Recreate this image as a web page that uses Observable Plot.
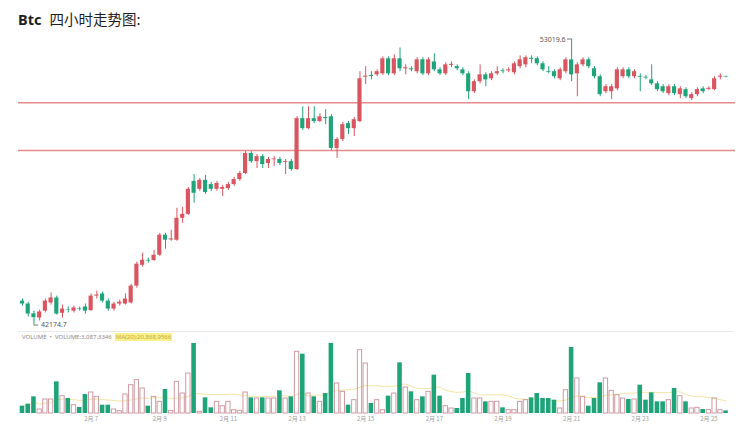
<!DOCTYPE html>
<html><head><meta charset="utf-8">
<script src="https://cdn.jsdelivr.net/npm/d3@7"></script>
<script src="https://cdn.jsdelivr.net/npm/@observablehq/plot@0.6"></script>
<style>
body{margin:0;background:#fff;width:750px;height:432px;overflow:hidden;position:relative;font-family:"Noto Sans CJK SC","Noto Sans",sans-serif;}
#price{position:absolute;left:0;top:0;}
#vol{position:absolute;left:0;top:330px;}
#sep{position:absolute;left:18px;top:331px;width:715px;height:0;border-top:1px solid #e8e8e8;}
#title{position:absolute;left:18px;top:9px;font-size:14.5px;line-height:19px;color:#1e1e1e;white-space:nowrap;z-index:5;}
#title b{font-family:"Noto Sans","Noto Sans CJK SC",sans-serif;font-weight:700;margin-right:8px;}
#volhead{position:absolute;left:22px;top:334px;font-size:6px;line-height:7px;color:#8a8a8a;white-space:nowrap;z-index:5;font-family:"Noto Sans",sans-serif;}
#volhead .ma{background:#fbf08a;color:#c2aa40;padding:0 1px;margin-left:3px;}
</style></head><body>
<div id="price"></div>
<div id="sep"></div>
<div id="vol"></div>
<div id="title"><b>Btc</b>四小时走势图:</div>
<div id="volhead">VOLUME &nbsp;•&nbsp; VOLUME:3,087.3346<span class="ma">MA(20):20,868.9566</span></div>
<script>
const startTime = Date.UTC(2024, 1, 5, 0, 0);
const HOUR = 3600 * 1000;

const open = [43080,42970,42600,42440,42700,43010,43200,42620,42760,42700,
42800,42860,42720,43270,43350,43080,42780,42970,42970,43010,
43650,44440,44630,44620,44820,45580,45400,45390,46220,46370,
47620,47320,47660,47500,47320,47320,47350,47500,47690,47920,
48680,48370,48560,48300,48440,48450,48340,48370,48070,50000,
49620,50000,49890,50040,50070,48870,49210,49810,49620,49890,
51570,51640,51660,51700,52270,51700,52270,51890,51890,51780,
52230,51700,52150,51850,51700,52020,51970,51850,51700,51020,
51400,51660,51510,51700,51810,51810,51740,51970,52040,52290,
52270,52080,51790,51780,51510,51780,52230,51700,52040,52230,
51890,51590,51020,51020,51130,51590,51850,51590,51600,51570,
51470,51320,51210,50950,51210,50910,51100,50760,50910,51130,
51110,51100,51570,51600];
const close = [42970,42590,42450,42670,43080,43200,42590,42780,42740,42820,
42780,42700,43270,43310,43080,42780,42970,43040,43160,43650,
44480,44630,44600,44820,45580,45390,45440,46220,46370,47320,
47170,47660,47200,47320,47540,47390,47500,47690,47920,48680,
48370,48560,48260,48450,48470,48300,48370,48070,50000,49620,
50000,49890,50070,50000,48870,49210,49770,49620,49960,51510,
51610,51600,51780,52270,51700,52270,51890,51930,51850,52230,
51700,52230,51850,51700,52040,52060,51890,51700,51020,51400,
51660,51470,51700,51780,51780,51850,52080,52230,52310,52250,
52080,51850,51760,51590,51850,52230,51660,52040,52230,51970,
51590,50910,51210,51210,51850,51850,51590,51780,51570,51540,
51320,51100,51020,51210,50950,51130,50830,50910,51100,51020,
51150,51510,51610,51580];
const high = [43160,43040,42700,42740,43160,43390,43270,42930,42860,42890,
42860,42970,43350,43460,43420,43160,43040,43120,43350,43720,
44560,44900,44710,45010,45650,45650,45770,46600,46640,47390,
47880,47730,47850,47580,47620,47470,47580,47770,48000,48750,
48750,48640,48640,48530,48560,48530,48450,48450,50080,50450,
50450,50450,50190,50340,50150,49280,49850,49890,50040,51780,
51970,51780,51850,52340,52340,52420,52680,52040,51970,52310,
52310,52310,52460,51930,52120,52150,52040,51930,51780,51470,
52040,51740,51780,51970,51890,51930,52150,52380,52380,52380,
52340,52150,51970,51850,51930,52310,53019.6,52120,52310,52310,
51970,51660,51290,51290,51930,51930,51930,51850,51700,51630,
52040,51400,51290,51290,51290,51210,51170,50980,51170,51210,
51210,51590,51700,51610];
const low = [42890,42480,42174.7,42330,42630,42930,42550,42440,42630,42630,
42700,42590,42700,43160,43010,42700,42700,42890,42930,42970,
43570,44370,44520,44590,44780,45050,45350,45350,46030,46330,
46790,47240,47130,47240,47240,47050,47280,47430,47620,47880,
48300,48110,48110,48110,48190,48220,47880,48000,48030,49550,
49580,49810,49850,49770,48790,48490,49130,49400,49320,49850,
51290,51470,51590,51630,51630,51630,51780,51660,51780,51700,
51630,51630,51780,51630,51630,51930,51810,51630,50720,50950,
51320,51210,51440,51630,51700,51740,51660,51890,51930,52080,
52000,51780,51700,51510,51440,51700,51400,50830,51970,51890,
51510,50830,50950,50720,51060,51510,51510,51510,51020,51470,
51250,51020,50950,50870,50870,50760,50760,50680,50830,50950,
51060,51060,51470,51550];
const volume = [8800,11200,20000,4800,16800,16800,38000,20800,18000,10000,
7200,22800,25200,20000,10000,10000,4800,2800,22800,34000,
40000,30000,8800,20000,14000,28800,3200,38000,24000,48000,
84000,2000,18800,6800,14000,8800,14000,4000,3200,25200,
18800,18000,18800,18000,18000,27200,18000,20000,74000,71200,
24000,20000,14000,24000,84000,36000,26000,10000,16000,76000,
60000,12000,16000,4000,20800,24000,60800,31200,26000,16000,
20000,26000,46000,20800,8800,6000,6000,18000,48000,18000,
18000,14000,14000,14000,6800,4000,4000,14000,16000,18800,
24000,18000,18000,16000,6000,28000,79200,42000,20000,8800,
18000,36800,42000,27200,22000,18000,16800,16800,34000,16000,
24800,14000,14000,16000,30000,20800,14000,6000,6800,4800,
4000,18000,4000,3087.3346];
const supportLevels = [50600, 48790];
const tickDays = [7, 9, 11, 13, 15, 17, 19, 21, 23, 25];
const tickLabels = ["2月 7","2月 9","2月 11","2月 13","2月 15","2月 17","2月 19","2月 21","2月 23","2月 25"];
const lowLabel = "42174.7";
const highLabel = "53019.6";

const UP = "#d9555f", DOWN = "#1fa47a", HOLLOW = "#cf9aa3";
const candles = open.map((o, i) => ({t: new Date(startTime + i * 4 * HOUR), o, c: close[i], h: high[i], l: low[i], v: volume[i]}));
const ups = candles.filter(d => d.c >= d.o);
const downs = candles.filter(d => d.c < d.o);
const lowPt = candles.reduce((a, b) => b.l < a.l ? b : a);
const highPt = candles.reduce((a, b) => b.h > a.h ? b : a);
const xScale = {type: "utc", domain: [new Date(startTime), new Date(Date.UTC(2024, 1, 25))], range: [22, 708.4], axis: null};
const shift = h => d => new Date(+d.t + h * HOUR);

const price = Plot.plot({
  width: 750, height: 330, marginLeft: 18, marginRight: 15, marginTop: 0, marginBottom: 0,
  style: {background: "transparent", overflow: "visible", fontFamily: "Noto Sans, sans-serif"},
  x: xScale,
  y: {domain: [42174.7, 53019.6], range: [324.5, 38.5], axis: null},
  marks: [
    Plot.ruleY(supportLevels, {stroke: "#e58b8b", strokeWidth: 1.6}),
    Plot.ruleX(ups, {x: "t", y1: "l", y2: "h", stroke: UP, strokeWidth: 1}),
    Plot.ruleX(downs, {x: "t", y1: "l", y2: "h", stroke: DOWN, strokeWidth: 1}),
    Plot.rect(ups, {x1: shift(-1.45), x2: shift(1.45), y1: "o", y2: "c", fill: UP}),
    Plot.rect(downs, {x1: shift(-1.45), x2: shift(1.45), y1: "o", y2: "c", fill: DOWN}),
    Plot.ruleY([lowPt], {x1: shift(0), x2: shift(3.3), y: "l", stroke: "#555", strokeWidth: 0.8}),
    Plot.text([lowPt], {x: "t", y: "l", text: () => lowLabel, dx: 7, textAnchor: "start", fontSize: 7, fill: "#555"}),
    Plot.ruleY([highPt], {x1: shift(-2.9), x2: shift(0), y: "h", stroke: "#555", strokeWidth: 0.8}),
    Plot.text([highPt], {x: "t", y: "h", text: () => highLabel, dx: -6, dy: 1, textAnchor: "end", fontSize: 7, fill: "#555"})
  ]
});
document.getElementById("price").append(price);

const vol = Plot.plot({
  width: 750, height: 102, marginLeft: 18, marginRight: 17, marginTop: 2, marginBottom: 17,
  style: {background: "transparent", overflow: "visible", fontFamily: "Noto Sans CJK SC, Noto Sans, sans-serif"},
  x: xScale,
  y: {domain: [0, 84000], range: [83, 13], axis: null},
  marks: [
    Plot.lineY(candles, Plot.windowY({k: 20, anchor: "end"}, {x: "t", y: "v", stroke: "#f2e6a4", strokeWidth: 1})),
    Plot.rect(downs, {x1: shift(-1.6), x2: shift(1.6), y1: () => 0, y2: "v", fill: DOWN}),
    Plot.rect(ups, {x1: shift(-1.5), x2: shift(1.5), y1: () => 0, y2: "v", fill: "none", stroke: HOLLOW, strokeWidth: 1}),
    Plot.text(tickDays, {x: d => new Date(Date.UTC(2024, 1, d)), text: (d, i) => tickLabels[i], frameAnchor: "bottom", lineAnchor: "top", dy: 1, fontSize: 6, fill: "#a0a0a0"})
  ]
});
document.getElementById("vol").append(vol);
</script>
</body></html>
